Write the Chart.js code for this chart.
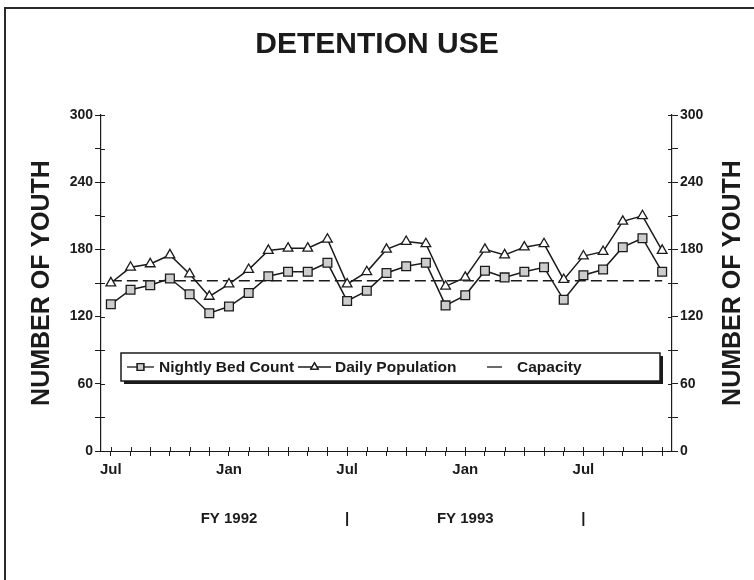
<!DOCTYPE html>
<html>
<head>
<meta charset="utf-8">
<title>Detention Use</title>
<script src="https://cdn.jsdelivr.net/npm/chart.js@4.4.1/dist/chart.umd.min.js"></script>
<style>
  html, body { margin: 0; padding: 0; background: #fff; }
  .page-frame { position: relative; width: 754px; height: 580px; overflow: hidden; }
  /* marco del documento escaneado: solo borde izquierdo y superior */
  .page-frame::before {
    content: ''; position: absolute; left: 4px; top: 7px; right: 0; bottom: 0;
    border-left: 2px solid #2a2a2a; border-top: 2px solid #2a2a2a; pointer-events: none;
  }
  #chartDetention { position: absolute; left: 0; top: 0; }
</style>
</head>
<body>
<div class="page-frame">
  <canvas id="chartDetention" width="754" height="580"></canvas>
</div>
<script>
// --- Datos (Jul FY1992 .. Nov FY1994) ---
const months = [
    'Jul', 'Aug', 'Sep', 'Oct', 'Nov', 'Dec', 'Jan', 'Feb', 'Mar', 'Apr', 'May', 'Jun',
    'Jul', 'Aug', 'Sep', 'Oct', 'Nov', 'Dec', 'Jan', 'Feb', 'Mar', 'Apr', 'May', 'Jun',
    'Jul', 'Aug', 'Sep', 'Oct', 'Nov'
];
const nightlyBedCount = [
    131, 144, 148, 154, 140, 123, 129, 141, 156, 160, 160, 168,
    134, 143, 159, 165, 168, 130, 139, 161, 155, 160, 164, 135,
    157, 162, 182, 190, 160
];
const dailyPopulation = [
    150, 164, 167, 175, 158, 138, 149, 162, 179, 181, 181, 189,
    149, 160, 180, 187, 185, 147, 155, 180, 175, 182, 185, 153,
    174, 178, 205, 210, 179
];
const capacity = [
    152, 152, 152, 152, 152, 152, 152, 152, 152, 152, 152, 152,
    152, 152, 152, 152, 152, 152, 152, 152, 152, 152, 152, 152,
    152, 152, 152, 152, 152
];
const fiscalYears = ['FY 1992', 'FY 1993'];
const shownMonths = ['Jul', 'Jan'];
const yMin = 0, yMax = 300, yStep = 30, yLabelEvery = 60;

const INK = '#1b1b1b';
const FONT = '"Liberation Sans", Arial, Helvetica, sans-serif';

Chart.defaults.font.family = FONT;
Chart.defaults.color = INK;

// Leyenda dentro del área del gráfico, con caja y sombra
const boxLegendPlugin = {
    id: 'boxLegend',
    afterDatasetsDraw(chart, args, opts) {
        const ctx = chart.ctx;
        const b = opts.box;
        ctx.save();
        ctx.fillStyle = INK;
        ctx.fillRect(b.x + b.shadow, b.y + b.shadow, b.w, b.h);
        ctx.fillStyle = '#fff';
        ctx.fillRect(b.x, b.y, b.w, b.h);
        ctx.strokeStyle = INK;
        ctx.lineWidth = 1.5;
        ctx.strokeRect(b.x, b.y, b.w, b.h);

        const cy = b.y + b.h / 2;
        ctx.font = opts.font;
        ctx.textBaseline = 'middle';
        opts.items.forEach(item => {
            const ds = chart.data.datasets[item.datasetIndex];
            ctx.beginPath();
            ctx.lineWidth = 1.3;
            ctx.strokeStyle = INK;
            ctx.setLineDash([]);
            ctx.moveTo(item.lineFrom, cy);
            ctx.lineTo(item.lineTo, cy);
            ctx.stroke();
            if (ds.pointRadius > 0) {
                Chart.helpers.drawPoint(ctx, {
                    pointStyle: ds.pointStyle,
                    radius: ds.pointRadius * 0.75,
                    borderWidth: 1.1,
                    rotation: 0
                }, (item.lineFrom + item.lineTo) / 2, cy);
                ctx.fillStyle = ds.pointBackgroundColor;
                ctx.fill();
                ctx.stroke();
            }
            ctx.fillStyle = INK;
            ctx.fillText(ds.label, item.textX, cy + 1);
        });
        ctx.restore();
    }
};

// Marcas que cruzan los ejes + título del eje derecho (leído de abajo hacia arriba)
const axisExtrasPlugin = {
    id: 'axisExtras',
    afterDraw(chart, args, opts) {
        const ctx = chart.ctx;
        const {y, yRight, x} = chart.scales;
        ctx.save();
        ctx.strokeStyle = INK;
        ctx.lineWidth = 1;
        ctx.beginPath();
        y.ticks.forEach(t => {
            const py = Math.round(y.getPixelForValue(t.value)) + 0.5;
            ctx.moveTo(y.right, py); ctx.lineTo(y.right + 4, py);
        });
        yRight.ticks.forEach(t => {
            const py = Math.round(yRight.getPixelForValue(t.value)) + 0.5;
            ctx.moveTo(yRight.left - 4, py); ctx.lineTo(yRight.left, py);
        });
        x.ticks.forEach((t, i) => {
            const px = Math.round(x.getPixelForTick(i)) + 0.5;
            ctx.moveTo(px, x.top - 4); ctx.lineTo(px, x.top);
        });
        ctx.stroke();

        const area = chart.chartArea;
        ctx.translate(opts.titleX, (area.top + area.bottom) / 2);
        ctx.rotate(-Math.PI / 2);
        ctx.font = opts.font;
        ctx.fillStyle = INK;
        ctx.textAlign = 'center';
        ctx.textBaseline = 'middle';
        ctx.fillText(opts.title, 0, 0);
        ctx.restore();
    }
};

const yTickLabel = (value) => (value % yLabelEvery === 0 ? value : '');

new Chart(document.getElementById('chartDetention').getContext('2d'), {
    type: 'line',
    data: {
        labels: months,
        datasets: [
            {
                label: 'Nightly Bed Count',
                data: nightlyBedCount,
                borderColor: INK,
                borderWidth: 1.5,
                pointStyle: 'rect',
                pointRadius: 6.2,
                pointBackgroundColor: '#cdcdcd',
                pointBorderColor: INK,
                pointBorderWidth: 1.3,
                tension: 0
            },
            {
                label: 'Daily Population',
                data: dailyPopulation,
                borderColor: INK,
                borderWidth: 1.5,
                pointStyle: 'triangle',
                pointRadius: 5.6,
                pointBackgroundColor: '#ffffff',
                pointBorderColor: INK,
                pointBorderWidth: 1.3,
                tension: 0
            },
            {
                label: 'Capacity',
                data: capacity,
                borderColor: INK,
                borderWidth: 1.4,
                borderDash: [11, 5],
                pointRadius: 0,
                tension: 0
            }
        ]
    },
    options: {
        responsive: false,
        animation: false,
        layout: { padding: 0 },
        scales: {
            x: {
                type: 'category',
                position: 'bottom',
                offset: true,
                grid: { drawOnChartArea: false, tickLength: 5, tickColor: INK },
                border: { display: true, color: INK, width: 1, dash: [2, 3] },
                ticks: {
                    autoSkip: false,
                    maxRotation: 0,
                    padding: 5,
                    color: INK,
                    font: { size: 15, weight: 'bold' },
                    callback: function(value, index) {
                        const m = months[index];
                        return shownMonths.includes(m) ? m : '';
                    }
                },
                afterFit: (scale) => { scale.height = 28; }
            },
            x2: {
                type: 'category',
                position: 'bottom',
                offset: true,
                grid: { display: false, drawTicks: false },
                border: { display: false },
                ticks: {
                    autoSkip: false,
                    maxRotation: 0,
                    padding: 31,
                    color: INK,
                    font: { size: 15, weight: 'bold' },
                    callback: function(value, index) {
                        if (index % 12 === 6) return fiscalYears[Math.floor(index / 12)] || '';
                        if (index % 12 === 0 && index > 0) return '|';
                        return '';
                    }
                },
                afterFit: (scale) => { scale.height = 101; }
            },
            y: {
                position: 'left',
                min: yMin,
                max: yMax,
                grid: { drawOnChartArea: false, tickLength: 6, tickColor: INK },
                border: { display: true, color: INK, width: 1.2 },
                ticks: {
                    stepSize: yStep,
                    padding: 2,
                    color: INK,
                    font: { size: 14, weight: 'bold' },
                    callback: yTickLabel
                },
                title: {
                    display: true,
                    text: 'NUMBER OF YOUTH',
                    color: INK,
                    font: { size: 25, weight: 'bold' },
                    padding: { top: 27, bottom: 0 }
                },
                afterFit: (scale) => { scale.width = 101; }
            },
            yRight: {
                position: 'right',
                min: yMin,
                max: yMax,
                grid: { drawOnChartArea: false, tickLength: 6, tickColor: INK },
                border: { display: true, color: INK, width: 1.2 },
                ticks: {
                    stepSize: yStep,
                    padding: 2,
                    color: INK,
                    font: { size: 14, weight: 'bold' },
                    callback: yTickLabel
                },
                afterFit: (scale) => { scale.width = 82; }
            }
        },
        plugins: {
            legend: { display: false },
            tooltip: { enabled: false },
            title: {
                display: true,
                text: 'DETENTION USE',
                color: INK,
                font: { size: 30, weight: 'bold' },
                padding: { top: 27, bottom: 52 }
            },
            boxLegend: {
                box: { x: 121, y: 353, w: 539, h: 28, shadow: 3 },
                font: 'bold 15.5px ' + FONT,
                items: [
                    { datasetIndex: 0, lineFrom: 127, lineTo: 154, textX: 159 },
                    { datasetIndex: 1, lineFrom: 298, lineTo: 331, textX: 335 },
                    { datasetIndex: 2, lineFrom: 487, lineTo: 502, textX: 517 }
                ]
            },
            axisExtras: {
                title: 'NUMBER OF YOUTH',
                titleX: 733,
                font: 'bold 25px ' + FONT
            }
        }
    },
    plugins: [boxLegendPlugin, axisExtrasPlugin]
});
</script>
</body>
</html>
